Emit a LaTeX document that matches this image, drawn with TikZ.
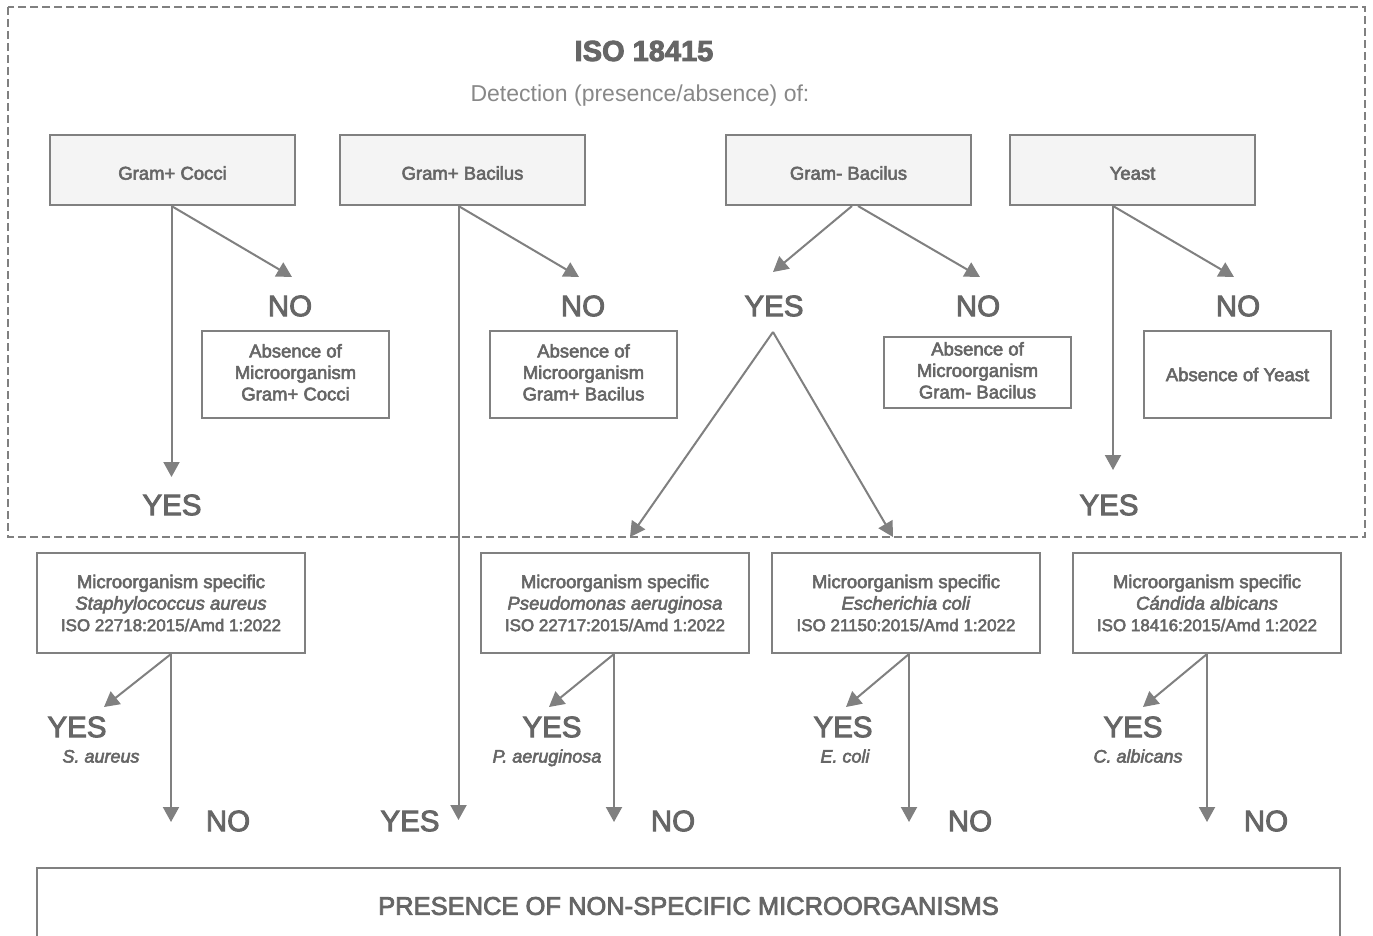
\documentclass[tikz,border=0pt]{standalone}
\usepackage{fontspec}
\setmainfont{Liberation Sans}[FakeBold=3]
\newfontfamily\lightfont{Liberation Sans}
\usetikzlibrary{arrows.meta}
\definecolor{lg}{HTML}{808080}
\definecolor{tx}{HTML}{666666}
\definecolor{tl}{HTML}{888888}
\definecolor{bf}{HTML}{F4F4F4}
\tikzset{
 boxtop/.style={draw=lg, fill=bf, line width=2pt, minimum width=245pt, minimum height=70pt, text=tx, font=\fontsize{18.5}{21}\selectfont, inner sep=0pt, text height=19.3pt, text depth=0pt},
 absbox/.style={draw=lg, line width=2pt, minimum width=187pt, minimum height=87pt, text=tx, align=center, font=\fontsize{18.5}{21.5}\selectfont, inner sep=0pt},
 specbox/.style={draw=lg, line width=2pt, minimum width=268pt, minimum height=100pt, text=tx, align=center, font=\fontsize{18.5}{21.5}\selectfont, inner sep=0pt},
 yn/.style={text=tx, font=\fontsize{29.5}{30}\selectfont, inner sep=0pt},
 spn/.style={text=tx, font=\fontsize{18}{20}\selectfont\itshape, inner sep=0pt, anchor=base},
 arr/.style={draw=lg, line width=2pt, -{Triangle[length=15pt,width=16pt]}},
}
\newcommand{\isoline}[1]{{\fontsize{17}{21.5}\selectfont #1}}
\begin{document}
\begin{tikzpicture}[x=1pt,y=-1pt]
\useasboundingbox (0,0) rectangle (1373,936);
\clip (0,0) rectangle (1373,936);
\fill[white] (0,0) rectangle (1373,936);

% dashed frame
\draw[lg, line width=2pt, dash pattern=on 8pt off 4pt] (8,7) rectangle (1365,537);

% titles
\node[text=tx, font=\fontsize{29}{30}\selectfont\bfseries, inner sep=0pt] (title) at (644,51) {ISO 18415};
\node[text=tl, font=\lightfont\fontsize{23}{25}\selectfont, inner sep=0pt] (detect) at (640,96) {Detection (presence/absence) of:};

% top boxes
\node[boxtop] (gpc) at (172.5,170) {Gram+ Cocci};
\node[boxtop] (gpb) at (462.5,170) {Gram+ Bacilus};
\node[boxtop] (gnb) at (848.5,170) {Gram- Bacilus};
\node[boxtop] (yst) at (1132.5,170) {Yeast};

% top labels
\node[yn] (no1) at (290,306) {NO};
\node[yn] (no2) at (583,306) {NO};
\node[yn] (yesm) at (774,306) {YES};
\node[yn] (no3) at (978,306) {NO};
\node[yn] (no4) at (1238,306) {NO};
\node[yn] (yes1) at (172,505) {YES};
\node[yn] (yes4) at (1109,505) {YES};

% absence boxes
\node[absbox] (abs1) at (295.5,374.5) {Absence of\\Microorganism\\Gram+ Cocci\rule[-4.5pt]{0pt}{0pt}};
\node[absbox] (abs2) at (583.5,374.5) {Absence of\\Microorganism\\Gram+ Bacilus\rule[-4.5pt]{0pt}{0pt}};
\node[absbox, minimum height=71pt] (abs3) at (977.5,372.5) {Absence of\\Microorganism\\Gram- Bacilus\rule[-4.5pt]{0pt}{0pt}};
\node[absbox] (abs4) at (1237.5,374.5) {Absence of Yeast};

% specific boxes
\node[specbox] (s1) at (171,603) {Microorganism specific\\\textit{Staphylococcus aureus}\\\isoline{ISO 22718:2015/Amd 1:2022}};
\node[specbox] (s2) at (615,603) {Microorganism specific\\\textit{Pseudomonas aeruginosa}\\\isoline{ISO 22717:2015/Amd 1:2022}};
\node[specbox] (s3) at (906,603) {Microorganism specific\\\textit{Escherichia coli}\\\isoline{ISO 21150:2015/Amd 1:2022}};
\node[specbox] (s4) at (1207,603) {Microorganism specific\\\textit{C\'andida albicans}\\\isoline{ISO 18416:2015/Amd 1:2022}};

% bottom labels
\node[yn] (ys1) at (77,727) {YES};
\node[yn] (ys2) at (552,727) {YES};
\node[yn] (ys3) at (843,727) {YES};
\node[yn] (ys4) at (1133,727) {YES};
\node[spn] (n1) at (101,762.5) {S. aureus};
\node[spn] (n2) at (547,762.5) {P. aeruginosa};
\node[spn] (n3) at (845,762.5) {E. coli};
\node[spn] (n4) at (1138,762.5) {C. albicans};
\node[yn] (nb1) at (228,821) {NO};
\node[yn] (yb) at (410,821) {YES};
\node[yn] (nb2) at (673,821) {NO};
\node[yn] (nb3) at (970,821) {NO};
\node[yn] (nb4) at (1266,821) {NO};

% bottom box
\node[draw=lg, line width=2pt, minimum width=1303pt, minimum height=76pt, inner sep=0pt, text=tx, font=\fontsize{25.5}{27}\selectfont] (pres) at (688.5,906) {PRESENCE OF NON-SPECIFIC MICROORGANISMS};

% arrow tips
\coordinate (c1) at (171.5,477);
\coordinate (c2) at (292,277);
\coordinate (c3) at (458.5,820);
\coordinate (c4) at (579,277);
\coordinate (c5) at (773,272);
\coordinate (c6) at (980,277);
\coordinate (c7) at (1113,470);
\coordinate (c8) at (1234,277);
\coordinate (ap) at (773,332);
\coordinate (m1) at (630,537);
\coordinate (m2) at (893,537);
\coordinate (d1) at (171,822);
\coordinate (e1) at (104,707);
\coordinate (d2) at (614,822);
\coordinate (e2) at (549,707);
\coordinate (d3) at (909,822);
\coordinate (e3) at (846,707);
\coordinate (d4) at (1207,822);
\coordinate (e4) at (1143,707);

% top arrows
\draw[arr] (gpc.south -| c1) -- (c1);
\draw[arr] (gpc.south -| c1) -- (c2);
\draw[arr] (gpb.south -| c3) -- (c3);
\draw[arr] (gpb.south -| c3) -- (c4);
\draw[arr] ([xshift=3.5pt]gnb.south) -- (c5);
\draw[arr] ([xshift=9.5pt]gnb.south) -- (c6);
\draw[arr] (yst.south -| c7) -- (c7);
\draw[arr] (yst.south -| c7) -- (c8);
\draw[arr] (ap) -- (m1);
\draw[arr] (ap) -- (m2);

% lower arrows
\draw[arr] (s1.south -| d1) -- (d1);
\draw[arr] (s1.south -| d1) -- (e1);
\draw[arr] (s2.south -| d2) -- (d2);
\draw[arr] (s2.south -| d2) -- (e2);
\draw[arr] (s3.south -| d3) -- (d3);
\draw[arr] (s3.south -| d3) -- (e3);
\draw[arr] (s4.south -| d4) -- (d4);
\draw[arr] (s4.south -| d4) -- (e4);
\end{tikzpicture}
\end{document}
